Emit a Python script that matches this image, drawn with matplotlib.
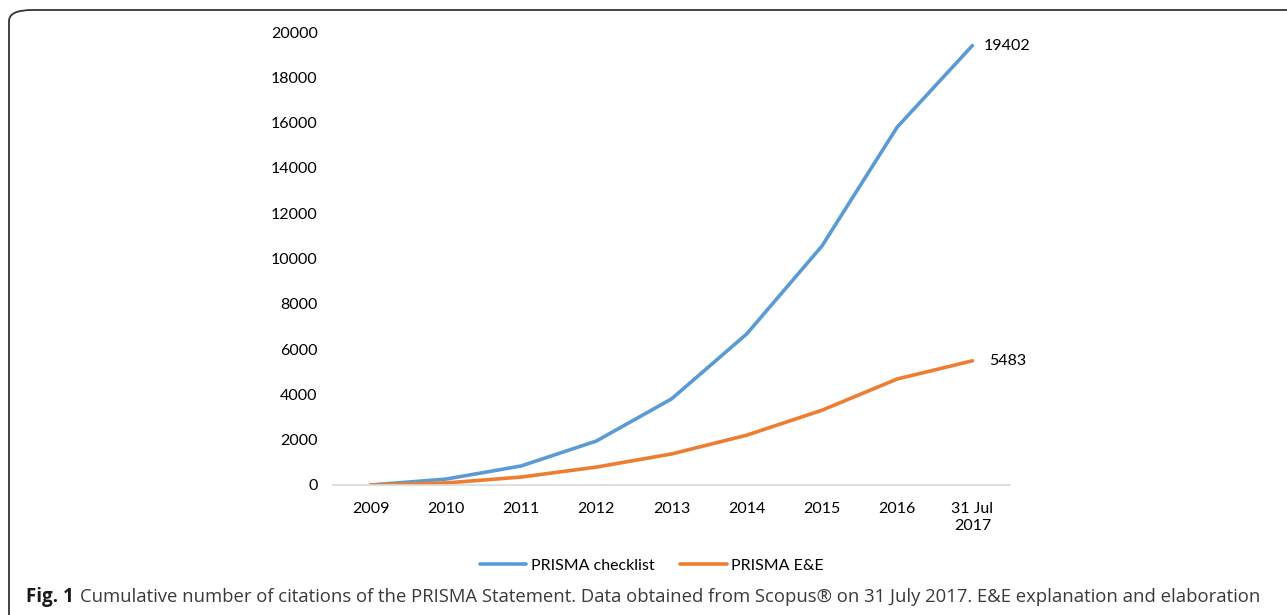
import matplotlib
matplotlib.use("Agg")
import matplotlib.pyplot as plt
from matplotlib.patches import FancyBboxPatch

categories = ["2009", "2010", "2011", "2012", "2013", "2014", "2015", "2016", "31 Jul\n2017"]
checklist = [0, 260, 840, 1940, 3800, 6670, 10550, 15800, 19402]
ee = [0, 90, 350, 790, 1370, 2200, 3300, 4680, 5483]
series_names = ["PRISMA checklist", "PRISMA E&E"]
yticks = [0, 2000, 4000, 6000, 8000, 10000, 12000, 14000, 16000, 18000, 20000]

W, H = 1287, 615
fig = plt.figure(figsize=(W / 100, H / 100), dpi=100)
plt.rcParams['font.family'] = ['Lato', 'DejaVu Sans']

# frame border (rounded)
border = FancyBboxPatch((9 / W, -20 / H), (W + 40) / W, (H - 10 + 20) / H,
                        boxstyle="round,pad=0,rounding_size=0.018",
                        transform=fig.transFigure, fill=False,
                        edgecolor="#333333", linewidth=1.3, clip_on=False)
fig.patches.append(border)

ax = fig.add_axes([333 / W, 1 - 485 / H, (1010 - 333) / W, (485 - 32) / H])
x = list(range(len(categories)))
l1, = ax.plot(x, checklist, color="#5B9BD5", lw=2.6, solid_capstyle="round")
l2, = ax.plot(x, ee, color="#ED7D31", lw=2.6, solid_capstyle="round")
ax.set_xlim(-0.5, len(categories) - 0.5)
ax.set_ylim(0, 20000)
ax.set_yticks(yticks)
ax.set_yticklabels([str(v) for v in yticks])
ax.set_xticks(x)
ax.set_xticklabels(categories, linespacing=1.3)
for s in ["top", "right", "left"]:
    ax.spines[s].set_visible(False)
ax.spines["bottom"].set_color("#d9d9d9")
ax.spines["bottom"].set_linewidth(1.2)
ax.tick_params(axis="both", length=0, labelsize=11.5, colors="#000000")
ax.tick_params(axis="y", pad=11)
ax.tick_params(axis="x", pad=12)
for lab in ax.get_xticklabels():
    lab.set_verticalalignment("top")

ax.annotate(str(checklist[-1]), (x[-1], checklist[-1]), xytext=(8, 0),
            textcoords="offset points", va="center", ha="left", fontsize=11.5)
ax.annotate(str(ee[-1]), (x[-1], ee[-1]), xytext=(12, 0),
            textcoords="offset points", va="center", ha="left", fontsize=11.5)

fig.legend([l1, l2], series_names, loc="center", bbox_to_anchor=(652 / W, 1 - 566 / H),
           ncol=2, frameon=False, fontsize=11.5, handlelength=2.9, columnspacing=1.6,
           handletextpad=0.3)

fig.text(26 / W, 1 - 597 / H, "Fig. 1", fontsize=13.5, fontweight="bold",
         family=["Open Sans", "DejaVu Sans"], va="center", ha="left", color="#1a1a1a")
fig.text(80 / W, 1 - 597 / H,
         "Cumulative number of citations of the PRISMA Statement. Data obtained from Scopus\u00ae on 31 July 2017. E&E explanation and elaboration",
         fontsize=13.35, family=["Open Sans", "DejaVu Sans"], va="center", ha="left", color="#3a3a3a")

fig.savefig("out.png", dpi=100)
